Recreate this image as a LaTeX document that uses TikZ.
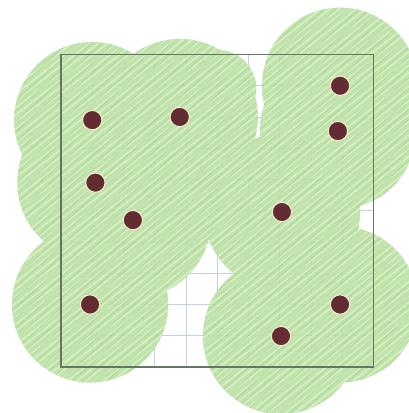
\documentclass[tikz,border=0pt]{standalone}
\usetikzlibrary{patterns.meta}
\definecolor{disk}{RGB}{186,224,164}
\definecolor{hatch}{RGB}{225,242,205}
\definecolor{hatchdark}{RGB}{160,206,140}
\definecolor{gridc}{RGB}{196,208,228}
\definecolor{framec}{RGB}{100,118,100}
\definecolor{dotc}{RGB}{98,44,50}
\definecolor{halo}{RGB}{238,236,205}
\tikzset{
  gridline/.style={gridc, line width=0.6pt},
  frameline/.style={framec, line width=1pt},
  pt/.style={circle, fill=dotc, draw=halo, line width=1pt, inner sep=0pt, minimum size=0.62cm},
}
\def\blob{(1,7.9) circle (2.5) (3.8,8) circle (2.5) (5.0,8.9) circle (1.25) (1.1,5.9) circle (2.5) (2.3,4.7) circle (2.5)
        (8.93,9.0) circle (2.5) (8.86,7.55) circle (2.5) (7.07,4.96) circle (2.5)
        (0.93,2.0) circle (2.5) (8.93,2.0) circle (2.5) (7.04,0.99) circle (2.5)}
\begin{document}
\begin{tikzpicture}[x=1cm,y=1cm]
\useasboundingbox[fill=white] (-1.952,-1.472) rectangle (11.136,11.744);
\draw[gridline] (0,0) grid[step=1] (10,10);
\begin{scope}[transparency group, opacity=0.9]
  \fill[disk, nonzero rule] \blob;
\end{scope}
\begin{scope}
  \clip \blob;
  \fill[pattern={Lines[angle=38,distance=5pt,line width=1.4pt]}, pattern color=hatch, opacity=0.75]
    (-2,-2) rectangle (12,12);
  \fill[pattern={Lines[angle=42,distance=7pt,line width=0.8pt,xshift=2pt]}, pattern color=hatchdark, opacity=0.5]
    (-2,-2) rectangle (12,12);
\end{scope}
\draw[frameline] (0,0) rectangle (10,10);
\node[pt] (p1) at (1,7.9) {};
\node[pt] (p2) at (3.8,8) {};
\node[pt] (p3) at (1.1,5.9) {};
\node[pt] (p4) at (2.3,4.7) {};
\node[pt] (p5) at (8.93,9.0) {};
\node[pt] (p6) at (8.86,7.55) {};
\node[pt] (p7) at (7.07,4.96) {};
\node[pt] (p8) at (0.93,2.0) {};
\node[pt] (p9) at (8.93,2.0) {};
\node[pt] (p10) at (7.04,0.99) {};
\end{tikzpicture}
\end{document}
